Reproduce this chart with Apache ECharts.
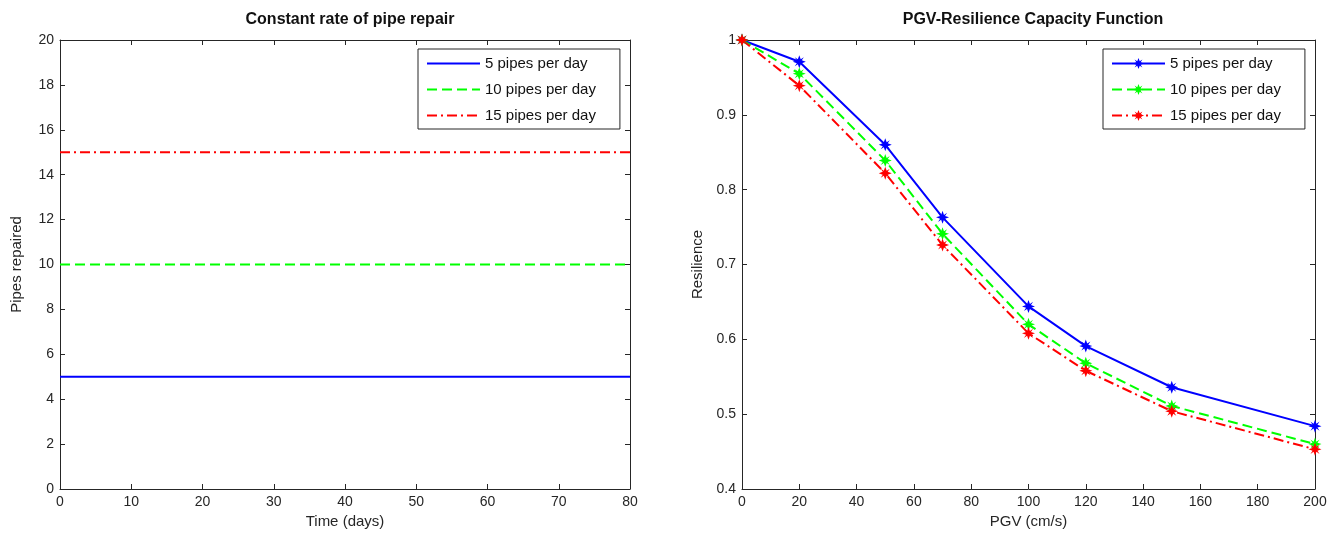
<!DOCTYPE html>
<html>
<head>
<meta charset="utf-8">
<script src="https://cdn.jsdelivr.net/npm/echarts@6/dist/echarts.min.js"></script>
<style>
  html, body { margin: 0; padding: 0; background: #fff; }
  #wrap { width: 1339px; height: 542px; position: relative; }
  #left, #right { position: absolute; top: 0; height: 542px; }
  #left { left: 0; width: 670px; }
  #right { left: 670px; width: 669px; }
</style>
</head>
<body>
<div id="wrap">
  <div id="left"></div>
  <div id="right"></div>
</div>
<script>
// 数据
const seriesNames = ['5 pipes per day', '10 pipes per day', '15 pipes per day'];
const timeDays = [0, 80];
const repairRates = [5, 10, 15];

const pgv = [0, 20, 50, 70, 100, 120, 150, 200];
const resilience5 = [1, 0.971, 0.860, 0.763, 0.644, 0.591, 0.536, 0.484];
const resilience10 = [1, 0.955, 0.839, 0.741, 0.620, 0.568, 0.511, 0.460];
const resilience15 = [1, 0.939, 0.822, 0.726, 0.608, 0.558, 0.504, 0.453];

const colors = ['#0000ff', '#00ff00', '#ff0000'];
const lineTypes = ['solid', [10, 5], [10, 4, 2, 4]];
const FONT = 'Liberation Sans, Arial, sans-serif';
const AXIS_COLOR = '#262626';

// 星号标记
const starPath = 'path://M0,-10 L2.2,-3.8 L7,-7 L3.8,-2.2 L10,0 L3.8,2.2 L7,7 L2.2,3.8 L0,10 L-2.2,3.8 L-7,7 L-3.8,2.2 L-10,0 L-3.8,-2.2 L-7,-7 L-2.2,-3.8 Z';

function boxAxes(min, max, interval, name, nameGap, pos, labelFmt) {
    // MATLAB 风格的盒子坐标轴：主轴 + 对侧无标签轴
    const base = {
        type: 'value',
        min: min,
        max: max,
        interval: interval,
        axisLine: { show: true, onZero: false, lineStyle: { color: AXIS_COLOR, width: 1 } },
        axisTick: { show: true, inside: true, length: 5, lineStyle: { color: AXIS_COLOR } },
        splitLine: { show: false }
    };
    const main = Object.assign({}, base, {
        position: pos[0],
        name: name,
        nameLocation: 'middle',
        nameGap: nameGap,
        nameTextStyle: { fontFamily: FONT, fontSize: 15, color: AXIS_COLOR },
        axisLabel: {
            fontFamily: FONT, fontSize: 14, color: AXIS_COLOR, margin: 6,
            formatter: labelFmt || (v => String(v))
        }
    });
    const other = Object.assign({}, base, {
        position: pos[1],
        axisLabel: { show: false }
    });
    return [main, other];
}

function legendOpt(left, showSymbol) {
    const opt = {
        orient: 'vertical',
        left: left,
        top: 49,
        backgroundColor: '#fff',
        borderColor: AXIS_COLOR,
        borderWidth: 1,
        padding: [7, 24, 6, 8],
        itemWidth: 53,
        itemHeight: 14,
        itemGap: 11,
        textStyle: { fontFamily: FONT, fontSize: 15, color: '#111' },
        data: seriesNames
    };
    if (!showSymbol) opt.itemStyle = { opacity: 0 };
    return opt;
}

// 左图：恒定修复速率
const leftChart = echarts.init(document.getElementById('left'));
leftChart.setOption({
    animation: false,
    title: {
        text: 'Constant rate of pipe repair',
        left: 345, top: 7, textAlign: 'center',
        textStyle: { fontFamily: FONT, fontSize: 16, fontWeight: 'bold', color: '#111' }
    },
    legend: legendOpt(418, false),
    grid: { left: 60, top: 40, width: 570, height: 449 },
    xAxis: boxAxes(0, 80, 10, 'Time (days)', 24, ['bottom', 'top']),
    yAxis: boxAxes(0, 20, 2, 'Pipes repaired', 36, ['left', 'right']),
    series: repairRates.map((r, i) => ({
        name: seriesNames[i],
        type: 'line',
        symbol: 'none',
        lineStyle: { color: colors[i], width: 2, type: lineTypes[i] },
        itemStyle: { color: colors[i] },
        data: timeDays.map(t => [t, r])
    }))
});

// 右图：PGV-韧性容量函数
const resilienceSets = [resilience5, resilience10, resilience15];
const rightChart = echarts.init(document.getElementById('right'));
rightChart.setOption({
    animation: false,
    title: {
        text: 'PGV-Resilience Capacity Function',
        left: 358, top: 7, textAlign: 'center',
        textStyle: { fontFamily: FONT, fontSize: 16, fontWeight: 'bold', color: '#111' }
    },
    legend: legendOpt(433, true),
    grid: { left: 72, top: 40, width: 573, height: 449 },
    xAxis: boxAxes(0, 200, 20, 'PGV (cm/s)', 24, ['bottom', 'top']),
    yAxis: boxAxes(0.4, 1, 0.1, 'Resilience', 36, ['left', 'right'],
        v => String(Math.round(v * 10) / 10)),
    series: resilienceSets.map((vals, i) => ({
        name: seriesNames[i],
        type: 'line',
        symbol: starPath,
        symbolSize: 13,
        lineStyle: { color: colors[i], width: 2, type: lineTypes[i] },
        itemStyle: { color: colors[i] },
        data: pgv.map((x, j) => [x, vals[j]])
    }))
});
</script>
</body>
</html>
